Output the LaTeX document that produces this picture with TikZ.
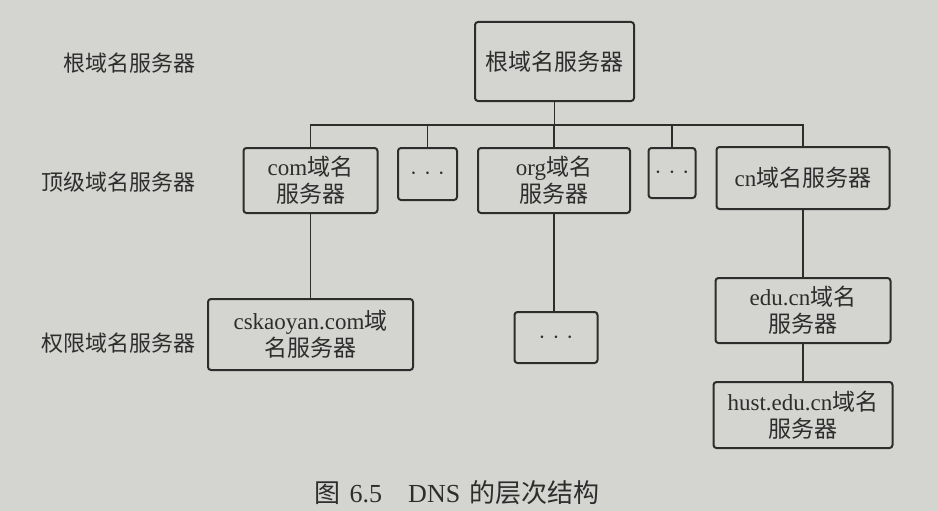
\documentclass[tikz,border=0pt]{standalone}
\usepackage{fontspec}
\setmainfont{Liberation Serif}
\newfontfamily\cjk{Noto Sans CJK SC}
\usetikzlibrary{positioning}
\definecolor{pagegrey}{RGB}{212,212,209}
\definecolor{inkgrey}{RGB}{45,45,45}
\newcommand{\zh}[1]{{\cjk #1}}
\newcommand{\moredots}{$\cdot\mkern1mu\cdot\mkern1mu\cdot$}
\tikzset{
  dnsbox/.style={rounded corners=3pt, draw=inkgrey, line width=2pt,
                 align=center, text=inkgrey, inner sep=2pt,
                 font=\fontsize{23}{27}\selectfont},
  dotbox/.style={dnsbox},
  link/.style={draw=inkgrey, line width=1.7pt},
  lvlabel/.style={anchor=east, text=inkgrey, inner sep=0pt,
                  font=\fontsize{22}{26}\selectfont},
  figcap/.style={text=inkgrey, inner sep=0pt,
                 font=\fontsize{26}{30}\selectfont},
}

\begin{document}
\begin{tikzpicture}[x=1pt,y=-1pt]
\fill[pagegrey] (0,0) rectangle (937,511);
\useasboundingbox (0,0) rectangle (937,511);
% level names
\node[lvlabel] (lroot) at (196,63) {\zh{根域名服务器}};
\node[lvlabel] (ltop) at (196,182) {\zh{顶级域名服务器}};
\node[lvlabel] (lauth) at (196,343) {\zh{权限域名服务器}};
% servers
\node[dnsbox,minimum width=159pt,minimum height=79pt] (root) at (554.5,61.5) {\zh{根域名服务器}};
\node[dnsbox,minimum width=134pt,minimum height=65pt] (com) at (310.5,180.5) {com\zh{域名}\\\zh{服务器}};
\node[dotbox,minimum width=59pt,minimum height=52pt] (d1) at (427.5,174) {\moredots};
\node[dnsbox,minimum width=152pt,minimum height=65pt] (org) at (554,180.5) {org\zh{域名}\\\zh{服务器}};
\node[dotbox,minimum width=47pt,minimum height=50pt] (d2) at (672,173) {\moredots};
\node[dnsbox,minimum width=173pt,minimum height=62pt] (cn) at (803,178) {cn\zh{域名服务器}};
\node[dnsbox,minimum width=205pt,minimum height=71pt] (csk) at (310.5,334.5) {cskaoyan.com\zh{域}\\\zh{名服务器}};
\node[dotbox,minimum width=83pt,minimum height=51pt] (d3) at (556,337.5) {\moredots};
\node[dnsbox,minimum width=175pt,minimum height=65pt] (edu) at (803,310.5) {edu.cn\zh{域名}\\\zh{服务器}};
\node[dnsbox,minimum width=179pt,minimum height=66pt] (hust) at (803,415) {hust.edu.cn\zh{域名}\\\zh{服务器}};
% tree lines
\coordinate (bus) at (554,125);
\draw[link] (root.south) -- (root.south |- bus);
\draw[link] (com.north) -- (com.north |- bus) -- (cn.north |- bus) -- (cn.north);
\foreach \n in {d1,org,d2}
  \draw[link] (\n.north) -- (\n.north |- bus);
\draw[link] (com.south) -- (csk.north);
\draw[link] (org.south) -- (org.south |- d3.north);
\draw[link] (cn.south) -- (edu.north);
\draw[link] (edu.south) -- (hust.north);
\node[figcap] (cap) at (457,493) {\zh{图}\hspace{9pt}6.5\hspace{26pt}DNS\hspace{9pt}\zh{的层次结构}};
\end{tikzpicture}
\end{document}
